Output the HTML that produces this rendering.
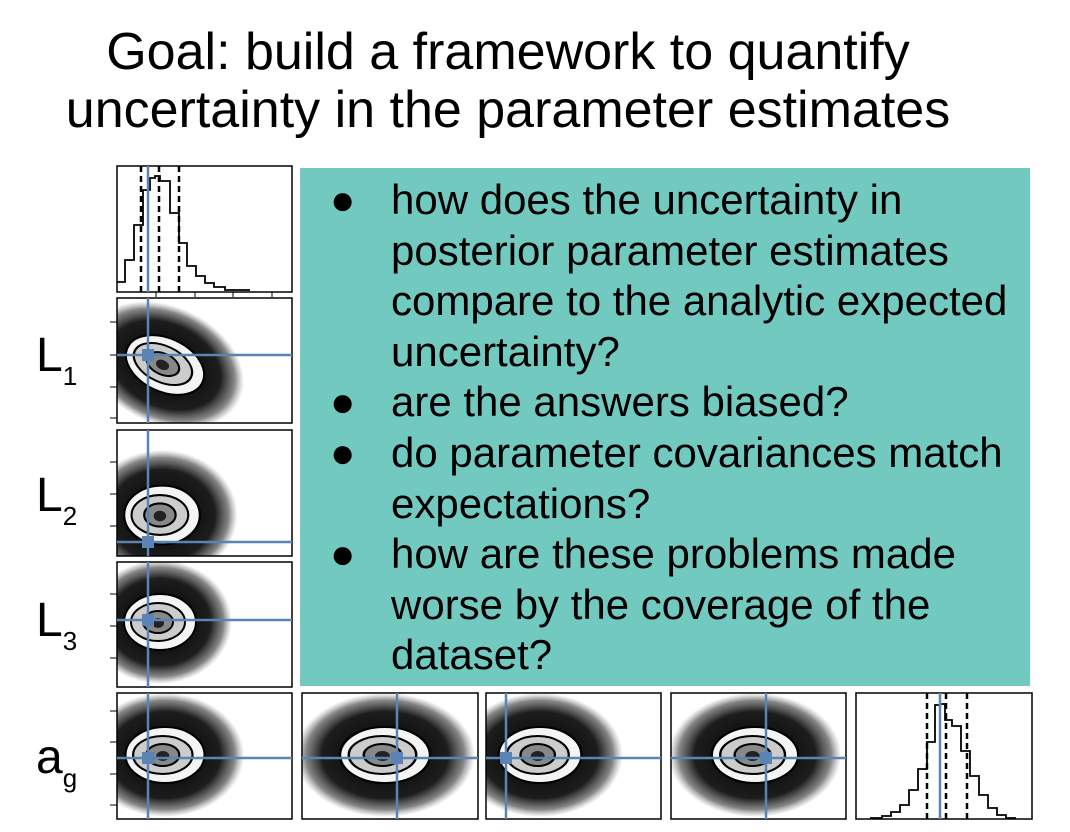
<!DOCTYPE html>
<html><head><meta charset="utf-8"><style>
html,body{margin:0;padding:0;background:#fff;}
body{width:1070px;height:832px;overflow:hidden;position:relative;font-family:"Liberation Sans",sans-serif;}
.t{position:absolute;left:0;width:1016px;text-align:center;font-size:52px;color:#000;white-space:nowrap;}
.box{position:absolute;left:300px;top:168px;width:730px;height:518px;background:#72c9c0;}
.b{position:absolute;font-size:42px;color:#000;line-height:50.5px;white-space:nowrap;}
.lab{position:absolute;font-size:48px;color:#000;}
.lab sub{font-size:26px;vertical-align:-14px;}
</style></head><body>
<div class="t" style="top:22px">Goal: build a framework to quantify</div>
<div class="t" style="top:80px">uncertainty in the parameter estimates</div>
<svg width="1070" height="832" style="position:absolute;left:0;top:0">
<defs>
<radialGradient id="cloud" cx="50%" cy="50%" r="50%">
<stop offset="0" stop-color="#000" stop-opacity="1"/>
<stop offset="0.7" stop-color="#111" stop-opacity="0.95"/>
<stop offset="0.88" stop-color="#333" stop-opacity="0.6"/>
<stop offset="1" stop-color="#666" stop-opacity="0"/>
</radialGradient>
<g id="blob">
<ellipse cx="0" cy="0" rx="72" ry="62" fill="url(#cloud)"/>
<ellipse cx="0" cy="0" rx="36" ry="28" fill="#f4f4f4" stroke="#000" stroke-width="2"/>
<ellipse cx="-2" cy="0" rx="27" ry="19" fill="#ccc" stroke="#000" stroke-width="2"/>
<ellipse cx="-2" cy="0" rx="15" ry="11" fill="#888" stroke="#000" stroke-width="2"/>
<ellipse cx="-2" cy="1" rx="6" ry="5" fill="#222"/>
</g>
<clipPath id="c1"><rect x="117" y="298" width="175" height="125"/></clipPath>
<clipPath id="c2"><rect x="117" y="430" width="175" height="126"/></clipPath>
<clipPath id="c3"><rect x="117" y="562" width="175" height="125"/></clipPath>
<clipPath id="c4"><rect x="117" y="693" width="175" height="126"/></clipPath>
<clipPath id="c5"><rect x="302" y="693" width="176" height="126"/></clipPath>
<clipPath id="c6"><rect x="486" y="693" width="175" height="126"/></clipPath>
<clipPath id="c7"><rect x="671" y="693" width="175" height="126"/></clipPath>
</defs>
<rect x="117" y="166" width="175" height="126" fill="#fff" stroke="#000" stroke-width="1.5"/>
<polyline fill="none" stroke="#000" stroke-width="1.8" points="117,282 125,282 125,260 134,260 134,225 143,225 143,190 150,190 150,178 155,178 155,176 160,176 160,181 170,181 170,213 179,213 179,243 187,243 187,266 196,266 196,276 205,276 205,283 214,283 214,287 225,287 225,290 250,290"/>
<g stroke="#000" stroke-width="2.5" stroke-dasharray="6,4"><line x1="141" y1="166" x2="141" y2="292"/><line x1="159" y1="166" x2="159" y2="292"/><line x1="179" y1="166" x2="179" y2="292"/></g>
<line x1="148" y1="166" x2="148" y2="292" stroke="#5b84b5" stroke-width="2.5"/>
<rect x="117" y="298" width="175" height="125" fill="#fff"/>
<g clip-path="url(#c1)"><g transform="translate(165,365) rotate(25) scale(1.15,0.95)"><use href="#blob"/></g></g>
<rect x="117" y="298" width="175" height="125" fill="none" stroke="#000" stroke-width="1.5"/>
<line x1="148" y1="298" x2="148" y2="423" stroke="#5b84b5" stroke-width="2.5"/><line x1="117" y1="355" x2="292" y2="355" stroke="#5b84b5" stroke-width="2.5"/><rect x="142" y="349" width="12" height="12" fill="#5b84b5"/>
<rect x="117" y="430" width="175" height="126" fill="#fff"/>
<g clip-path="url(#c2)"><g transform="translate(162,515) scale(1.05,1.05)"><use href="#blob"/></g></g>
<rect x="117" y="430" width="175" height="126" fill="none" stroke="#000" stroke-width="1.5"/>
<line x1="148" y1="430" x2="148" y2="556" stroke="#5b84b5" stroke-width="2.5"/><line x1="117" y1="542" x2="292" y2="542" stroke="#5b84b5" stroke-width="2.5"/><rect x="142" y="536" width="12" height="12" fill="#5b84b5"/>
<rect x="117" y="562" width="175" height="125" fill="#fff"/>
<g clip-path="url(#c3)"><g transform="translate(160,622) scale(1,1)"><use href="#blob"/></g></g>
<rect x="117" y="562" width="175" height="125" fill="none" stroke="#000" stroke-width="1.5"/>
<line x1="148" y1="562" x2="148" y2="687" stroke="#5b84b5" stroke-width="2.5"/><line x1="117" y1="620" x2="292" y2="620" stroke="#5b84b5" stroke-width="2.5"/><rect x="142" y="614" width="12" height="12" fill="#5b84b5"/>
<rect x="117" y="693" width="175" height="126" fill="#fff"/>
<g clip-path="url(#c4)"><g transform="translate(165,755) scale(1.1,1)"><use href="#blob"/></g></g>
<rect x="117" y="693" width="175" height="126" fill="none" stroke="#000" stroke-width="1.5"/>
<line x1="148" y1="693" x2="148" y2="819" stroke="#5b84b5" stroke-width="2.5"/><line x1="117" y1="758" x2="292" y2="758" stroke="#5b84b5" stroke-width="2.5"/><rect x="142" y="752" width="12" height="12" fill="#5b84b5"/>
<rect x="302" y="693" width="176" height="126" fill="#fff"/>
<g clip-path="url(#c5)"><g transform="translate(385,755) scale(1.25,1)"><use href="#blob"/></g></g>
<rect x="302" y="693" width="176" height="126" fill="none" stroke="#000" stroke-width="1.5"/>
<line x1="397" y1="693" x2="397" y2="819" stroke="#5b84b5" stroke-width="2.5"/><line x1="302" y1="758" x2="478" y2="758" stroke="#5b84b5" stroke-width="2.5"/><rect x="391" y="752" width="12" height="12" fill="#5b84b5"/>
<rect x="486" y="693" width="175" height="126" fill="#fff"/>
<g clip-path="url(#c6)"><g transform="translate(540,755) scale(1.15,1)"><use href="#blob"/></g></g>
<rect x="486" y="693" width="175" height="126" fill="none" stroke="#000" stroke-width="1.5"/>
<line x1="506" y1="693" x2="506" y2="819" stroke="#5b84b5" stroke-width="2.5"/><line x1="486" y1="758" x2="661" y2="758" stroke="#5b84b5" stroke-width="2.5"/><rect x="500" y="752" width="12" height="12" fill="#5b84b5"/>
<rect x="671" y="693" width="175" height="126" fill="#fff"/>
<g clip-path="url(#c7)"><g transform="translate(755,755) scale(1.2,1)"><use href="#blob"/></g></g>
<rect x="671" y="693" width="175" height="126" fill="none" stroke="#000" stroke-width="1.5"/>
<line x1="766" y1="693" x2="766" y2="819" stroke="#5b84b5" stroke-width="2.5"/><line x1="671" y1="758" x2="846" y2="758" stroke="#5b84b5" stroke-width="2.5"/><rect x="760" y="752" width="12" height="12" fill="#5b84b5"/>
<rect x="856" y="693" width="176" height="126" fill="#fff" stroke="#000" stroke-width="1.5"/>
<polyline fill="none" stroke="#000" stroke-width="1.8" points="870,818 882,818 882,816 891,816 891,812 900,812 900,805 909,805 909,790 918,790 918,769 927,769 927,742 935,742 935,705 940,705 940,704 945,704 945,720 952,720 952,726 961,726 961,751 970,751 970,776 979,776 979,795 988,795 988,808 997,808 997,815 1006,815 1006,818 1016,818"/>
<g stroke="#000" stroke-width="2.5" stroke-dasharray="6,4"><line x1="927" y1="693" x2="927" y2="819"/><line x1="946" y1="693" x2="946" y2="819"/><line x1="967" y1="693" x2="967" y2="819"/></g>
<line x1="940" y1="693" x2="940" y2="819" stroke="#5b84b5" stroke-width="2.5"/>
<g stroke="#000" stroke-width="1">
<line x1="156" y1="292" x2="156" y2="297"/><line x1="195" y1="292" x2="195" y2="297"/><line x1="233" y1="292" x2="233" y2="297"/><line x1="272" y1="292" x2="272" y2="297"/>
<line x1="110" y1="322" x2="117" y2="322"/><line x1="110" y1="355" x2="117" y2="355"/><line x1="110" y1="387" x2="117" y2="387"/><line x1="110" y1="418" x2="117" y2="418"/>
<line x1="110" y1="462" x2="117" y2="462"/><line x1="110" y1="494" x2="117" y2="494"/><line x1="110" y1="526" x2="117" y2="526"/>
<line x1="110" y1="594" x2="117" y2="594"/><line x1="110" y1="626" x2="117" y2="626"/><line x1="110" y1="658" x2="117" y2="658"/>
<line x1="110" y1="711" x2="117" y2="711"/><line x1="110" y1="742" x2="117" y2="742"/><line x1="110" y1="774" x2="117" y2="774"/><line x1="110" y1="805" x2="117" y2="805"/>
</g>
</svg>
<div class="box"></div>
<div class="b" style="left:330px;top:175px">●</div>
<div class="b" style="left:391px;top:175px">how does the uncertainty in<br>posterior parameter estimates<br>compare to the analytic expected<br>uncertainty?</div>
<div class="b" style="left:330px;top:377px">●</div>
<div class="b" style="left:391px;top:377px">are the answers biased?</div>
<div class="b" style="left:330px;top:428px">●</div>
<div class="b" style="left:391px;top:428px">do parameter covariances match<br>expectations?</div>
<div class="b" style="left:330px;top:529px">●</div>
<div class="b" style="left:391px;top:529px">how are these problems made<br>worse by the coverage of the<br>dataset?</div>
<div class="lab" style="left:36px;top:328px">L<sub>1</sub></div>
<div class="lab" style="left:36px;top:468px">L<sub>2</sub></div>
<div class="lab" style="left:36px;top:593px">L<sub>3</sub></div>
<div class="lab" style="left:36px;top:730px">a<sub>g</sub></div>
</body></html>
